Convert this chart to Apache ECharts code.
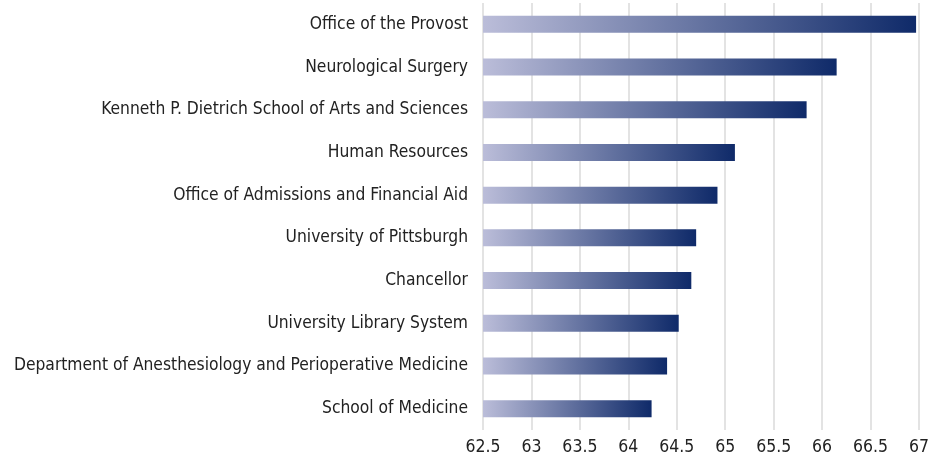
<!DOCTYPE html>
<html>
<head>
<meta charset="utf-8">
<script src="https://cdn.jsdelivr.net/npm/echarts@6/dist/echarts.min.js"></script>
<style>
  html, body { margin: 0; padding: 0; background: #fff; }
  #main { width: 930px; height: 463px; }
</style>
</head>
<body>
<div id="main"></div>
<script>
const departments = [
  "Office of the Provost",
  "Neurological Surgery",
  "Kenneth P. Dietrich School of Arts and Sciences",
  "Human Resources",
  "Office of Admissions and Financial Aid",
  "University of Pittsburgh",
  "Chancellor",
  "University Library System",
  "Department of Anesthesiology and Perioperative Medicine",
  "School of Medicine"
]
const scores = [66.97, 66.15, 65.84, 65.1, 64.92, 64.7, 64.65, 64.52, 64.4, 64.24]

const font = "'DejaVu Sans Condensed', 'Roboto', sans-serif"

const chart = echarts.init(document.getElementById("main"))

chart.setOption({
  backgroundColor: "#fff",
  animation: false,
  grid: {
    left: 483, right: 11, top: 3, bottom: 33,
    containLabel: false,
    outerBoundsMode: "none"
  },
  xAxis: {
    type: "value",
    min: 62.5,
    max: 67,
    interval: 0.5,
    axisLine: { show: false },
    axisTick: { show: false },
    axisLabel: { color: "#222", fontSize: 17.5, fontFamily: font, margin: 8 },
    splitLine: { lineStyle: { color: "#e3e3e3", width: 2 } }
  },
  yAxis: {
    type: "category",
    inverse: true,
    data: departments,
    axisLine: { show: false },
    axisTick: { show: false },
    axisLabel: { color: "#222", fontSize: 17.3, fontFamily: font, margin: 15 }
  },
  series: [
    {
      type: "bar",
      data: scores,
      barWidth: 17,
      itemStyle: {
        color: new echarts.graphic.LinearGradient(0, 0, 1, 0, [
          { offset: 0, color: "#bbbdd9" },
          { offset: 1, color: "#0f2a69" }
        ])
      }
    }
  ]
})
</script>
</body>
</html>
